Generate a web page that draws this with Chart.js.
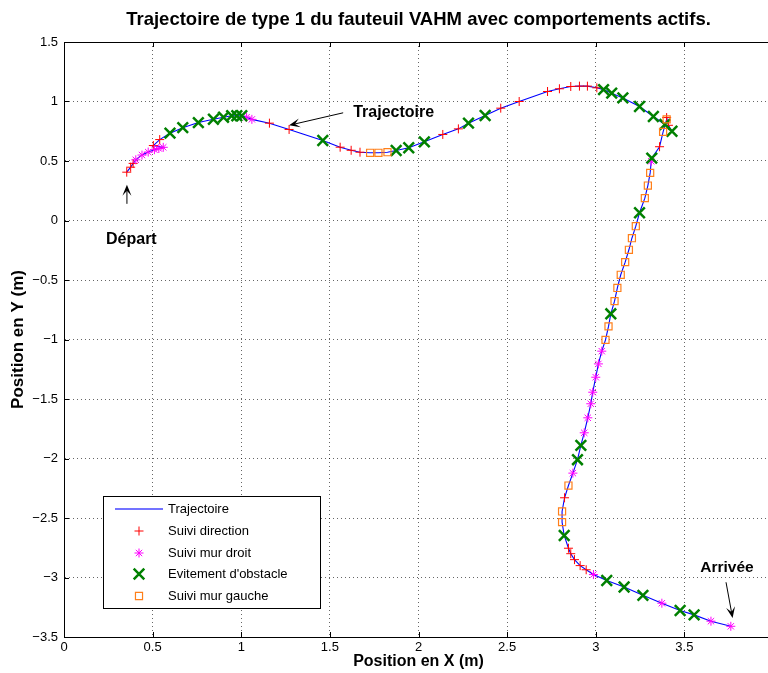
<!DOCTYPE html>
<html>
<head>
<meta charset="utf-8">
<script src="https://cdn.jsdelivr.net/npm/chart.js@4.4.0/dist/chart.umd.min.js"></script>
<style>
  html, body { margin: 0; padding: 0; overflow: hidden; background: #fff; }
</style>
</head>
<body>
<canvas id="trajChart" width="800" height="673"></canvas>
<script>
// Trajectory points in order, with the active behaviour at each point
// D = suivi direction, M = suivi mur droit, E = evitement d'obstacle, G = suivi mur gauche
const pathX = [0.354, 0.376, 0.39, 0.405, 0.44, 0.475, 0.51, 0.535, 0.56, 0.504, 0.54,
  0.598, 0.67, 0.758, 0.843, 0.90, 0.946, 0.975, 1.003, 1.03, 1.06, 1.159, 1.27,
  1.46, 1.558, 1.62, 1.67, 1.727, 1.774, 1.825, 1.874, 1.945, 2.033, 2.137, 2.225,
  2.282, 2.376, 2.464, 2.568, 2.728, 2.795, 2.859, 2.908, 2.953, 3.006,
  3.044, 3.09, 3.153, 3.247, 3.325, 3.39, 3.43, 3.41, 3.40, 3.40, 3.38, 3.36,
  3.316, 3.313, 3.307, 3.294, 3.277, 3.247, 3.226, 3.204, 3.187, 3.166, 3.141, 3.122,
  3.106, 3.085, 3.072, 3.055, 3.034, 3.015, 3.0, 2.983, 2.972, 2.955, 2.935,
  2.916, 2.897, 2.871, 2.846, 2.824, 2.81, 2.81, 2.822, 2.846, 2.859, 2.88, 2.912, 2.946,
  2.987, 3.062, 3.16, 3.266, 3.373, 3.476, 3.555, 3.65, 3.762];
const pathY = [0.406, 0.448, 0.48, 0.51, 0.55, 0.575, 0.595, 0.605, 0.615, 0.63, 0.68,
  0.734, 0.78, 0.823, 0.851, 0.868, 0.88, 0.88, 0.88, 0.868, 0.85, 0.818, 0.765,
  0.672, 0.616, 0.59, 0.574, 0.569, 0.569, 0.574, 0.588, 0.611, 0.661, 0.723, 0.77,
  0.818, 0.882, 0.944, 1.0, 1.084, 1.107, 1.126, 1.129, 1.129, 1.115,
  1.10, 1.07, 1.03, 0.958, 0.874, 0.807, 0.75, 0.80, 0.865, 0.85, 0.745, 0.62,
  0.524, 0.498, 0.40, 0.294, 0.188, 0.065, -0.048, -0.149, -0.246, -0.35, -0.456, -0.567,
  -0.678, -0.784, -0.89, -1.003, -1.098, -1.205, -1.317, -1.443, -1.54, -1.658, -1.784,
  -1.89, -2.01, -2.123, -2.227, -2.33, -2.445, -2.535, -2.647, -2.754, -2.80, -2.85, -2.90, -2.935,
  -2.975, -3.025, -3.08, -3.15, -3.216, -3.277, -3.314, -3.367, -3.41];
const pathMode = ['D', 'D', 'D', 'M', 'M', 'M', 'M', 'M', 'M', 'D', 'D',
  'E', 'E', 'E', 'E', 'E', 'E', 'E', 'E', 'M', 'M', 'D', 'D',
  'E', 'D', 'D', 'D', 'G', 'G', 'G', 'E', 'E', 'E', 'D', 'D',
  'E', 'E', 'D', 'D', 'D', 'D', 'D', 'D', 'D', 'D',
  'E', 'E', 'E', 'E', 'E', 'E', 'E', 'D', 'D', 'G', 'G', 'D',
  'E', 'M', 'G', 'G', 'G', 'E', 'G', 'G', 'G', 'G', 'G', 'G',
  'G', 'E', 'G', 'G', 'M', 'M', 'M', 'M', 'M', 'M', 'M',
  'E', 'E', 'M', 'G', 'D', 'G', 'G', 'E', 'D', 'D', 'D', 'D', 'D',
  'M', 'E', 'E', 'E', 'M', 'E', 'E', 'M', 'M'];

const xTicks = [0, 0.5, 1, 1.5, 2, 2.5, 3, 3.5, 4];
const yTicks = [-3.5, -3, -2.5, -2, -1.5, -1, -0.5, 0, 0.5, 1, 1.5];

const FONT = '"Liberation Sans", Arial, Helvetica, sans-serif';

function pointsFor(mode) {
  const pts = [];
  pathX.forEach((x, i) => {
    if (mode === null || pathMode[i] === mode) pts.push({ x: x, y: pathY[i] });
  });
  return pts;
}

function fmt(v) {
  return String(v).replace('-', '\u2212');
}

// Marker styles shared by the datasets and the legend
const styles = {
  D: { label: 'Suivi direction', pointStyle: 'cross', radius: 4.5, color: '#ff0000', width: 1 },
  M: { label: 'Suivi mur droit', pointStyle: 'star', radius: 4.5, color: '#ff00ff', width: 1 },
  E: { label: "Evitement d'obstacle", pointStyle: 'crossRot', radius: 7.5, color: '#008000', width: 2.5 },
  G: { label: 'Suivi mur gauche', pointStyle: 'rect', radius: 5, color: '#ff7f1a', width: 1.2 }
};

function markerDataset(key, order) {
  const s = styles[key];
  return {
    label: s.label,
    data: pointsFor(key),
    showLine: false,
    pointStyle: s.pointStyle,
    pointRadius: s.radius,
    pointBorderColor: s.color,
    pointBackgroundColor: 'rgba(0,0,0,0)',
    pointBorderWidth: s.width,
    order: order
  };
}

function drawArrow(ctx, x1, y1, x2, y2) {
  const ang = Math.atan2(y2 - y1, x2 - x1);
  const len = 11, half = 4.5;
  ctx.beginPath();
  ctx.moveTo(x1, y1);
  ctx.lineTo(x2 - Math.cos(ang) * 6, y2 - Math.sin(ang) * 6);
  ctx.stroke();
  ctx.beginPath();
  ctx.moveTo(x2, y2);
  ctx.lineTo(x2 - Math.cos(ang) * len - Math.sin(ang) * half, y2 - Math.sin(ang) * len + Math.cos(ang) * half);
  ctx.lineTo(x2 - Math.cos(ang) * 6, y2 - Math.sin(ang) * 6);
  ctx.lineTo(x2 - Math.cos(ang) * len + Math.sin(ang) * half, y2 - Math.sin(ang) * len - Math.cos(ang) * half);
  ctx.closePath();
  ctx.fill();
}

const decorPlugin = {
  id: 'decor',
  afterDraw(chart) {
    const ctx = chart.ctx;
    const area = chart.chartArea;
    const xs = chart.scales.x, ys = chart.scales.y;
    ctx.save();

    // top and right box edges
    ctx.strokeStyle = '#000';
    ctx.lineWidth = 1;
    ctx.beginPath();
    ctx.moveTo(area.left, area.top + 0.5);
    ctx.lineTo(area.right, area.top + 0.5);
    ctx.moveTo(area.right - 0.5, area.top);
    ctx.lineTo(area.right - 0.5, area.bottom);
    ctx.stroke();

    // inward tick marks
    ctx.beginPath();
    xTicks.forEach(v => {
      const px = Math.round(xs.getPixelForValue(v)) + 0.5;
      ctx.moveTo(px, area.bottom); ctx.lineTo(px, area.bottom - 5);
      ctx.moveTo(px, area.top); ctx.lineTo(px, area.top + 5);
    });
    yTicks.forEach(v => {
      const py = Math.round(ys.getPixelForValue(v)) + 0.5;
      ctx.moveTo(area.left, py); ctx.lineTo(area.left + 5, py);
      ctx.moveTo(area.right, py); ctx.lineTo(area.right - 5, py);
    });
    ctx.stroke();

    // title and axis titles
    ctx.fillStyle = '#000';
    ctx.textAlign = 'center';
    ctx.textBaseline = 'middle';
    ctx.font = 'bold 18.5px ' + FONT;
    ctx.fillText('Trajectoire de type 1 du fauteuil VAHM avec comportements actifs.', (area.left + area.right) / 2, 20);
    ctx.font = 'bold 16px ' + FONT;
    ctx.fillText('Position en X (m)', (area.left + area.right) / 2, 662);
    ctx.save();
    ctx.translate(18, (area.top + area.bottom) / 2);
    ctx.rotate(-Math.PI / 2);
    ctx.font = 'bold 17px ' + FONT;
    ctx.fillText('Position en Y (m)', 0, 0);
    ctx.restore();

    // annotations with arrows
    const px = v => xs.getPixelForValue(v), py = v => ys.getPixelForValue(v);
    ctx.font = 'bold 16px ' + FONT;
    ctx.fillText('Trajectoire', px(1.86), py(0.91));
    ctx.fillText('D\u00e9part', px(0.38), py(-0.16));
    ctx.font = 'bold 15.5px ' + FONT;
    ctx.fillText('Arriv\u00e9e', px(3.74), py(-2.92));
    ctx.strokeStyle = '#000';
    ctx.lineWidth = 1;
    drawArrow(ctx, px(1.575), py(0.905), px(1.27), py(0.80));
    drawArrow(ctx, px(0.355), py(0.14), px(0.355), py(0.30));
    drawArrow(ctx, px(3.735), py(-3.04), px(3.772), py(-3.34));

    // legend box
    const lx = 103, ly = 496, lw = 217, lh = 112;
    ctx.fillStyle = '#fff';
    ctx.fillRect(lx, ly, lw, lh);
    ctx.strokeStyle = '#000';
    ctx.lineWidth = 1;
    ctx.strokeRect(lx + 0.5, ly + 0.5, lw, lh);
    ctx.font = '13px ' + FONT;
    ctx.textAlign = 'left';
    const rows = [509, 531, 553, 574, 596];
    ctx.strokeStyle = '#4444ff';
    ctx.lineWidth = 1.6;
    ctx.beginPath();
    ctx.moveTo(115, rows[0]); ctx.lineTo(163, rows[0]);
    ctx.stroke();
    ctx.fillStyle = '#000';
    ctx.fillText('Trajectoire', 168, rows[0]);
    ['D', 'M', 'E', 'G'].forEach((k, i) => {
      const s = styles[k];
      const y = rows[i + 1];
      ctx.save();
      ctx.strokeStyle = s.color;
      ctx.fillStyle = 'rgba(0,0,0,0)';
      ctx.lineWidth = s.width;
      if (Chart.helpers && Chart.helpers.drawPoint) {
        Chart.helpers.drawPoint(ctx, { pointStyle: s.pointStyle, radius: s.radius, rotation: 0, borderWidth: s.width }, 139, y);
      }
      ctx.restore();
      ctx.fillStyle = '#000';
      ctx.fillText(s.label, 168, y);
    });
    ctx.restore();
  }
};

new Chart(document.getElementById('trajChart'), {
  type: 'scatter',
  data: {
    datasets: [
      {
        label: 'Trajectoire',
        data: pointsFor(null),
        showLine: true,
        borderColor: '#0000ff',
        borderWidth: 1.1,
        pointRadius: 0,
        fill: false,
        order: 10
      },
      markerDataset('D', 4),
      markerDataset('M', 3),
      markerDataset('E', 2),
      markerDataset('G', 1)
    ]
  },
  options: {
    responsive: false,
    animation: false,
    layout: { padding: { top: 42, right: 27, left: 0, bottom: 0 } },
    plugins: {
      legend: { display: false },
      tooltip: { enabled: false },
      title: { display: false }
    },
    scales: {
      x: {
        type: 'linear',
        min: 0,
        max: 4,
        afterFit: s => { s.height = 36; },
        afterBuildTicks: s => { s.ticks = xTicks.map(v => ({ value: v })); },
        ticks: { callback: fmt, color: '#000', font: { family: FONT, size: 13 }, padding: 3, maxRotation: 0 },
        grid: { color: 'rgba(0,0,0,0.6)', drawTicks: false, lineWidth: 1 },
        border: { display: true, color: '#000', width: 1, dash: [1, 3] }
      },
      y: {
        type: 'linear',
        min: -3.5,
        max: 1.5,
        afterFit: s => { s.width = 64; },
        afterBuildTicks: s => { s.ticks = yTicks.map(v => ({ value: v })); },
        ticks: { callback: fmt, color: '#000', font: { family: FONT, size: 13 }, padding: 6 },
        grid: { color: 'rgba(0,0,0,0.6)', drawTicks: false, lineWidth: 1 },
        border: { display: true, color: '#000', width: 1, dash: [1, 3] }
      }
    }
  },
  plugins: [decorPlugin]
});
</script>
</body>
</html>
